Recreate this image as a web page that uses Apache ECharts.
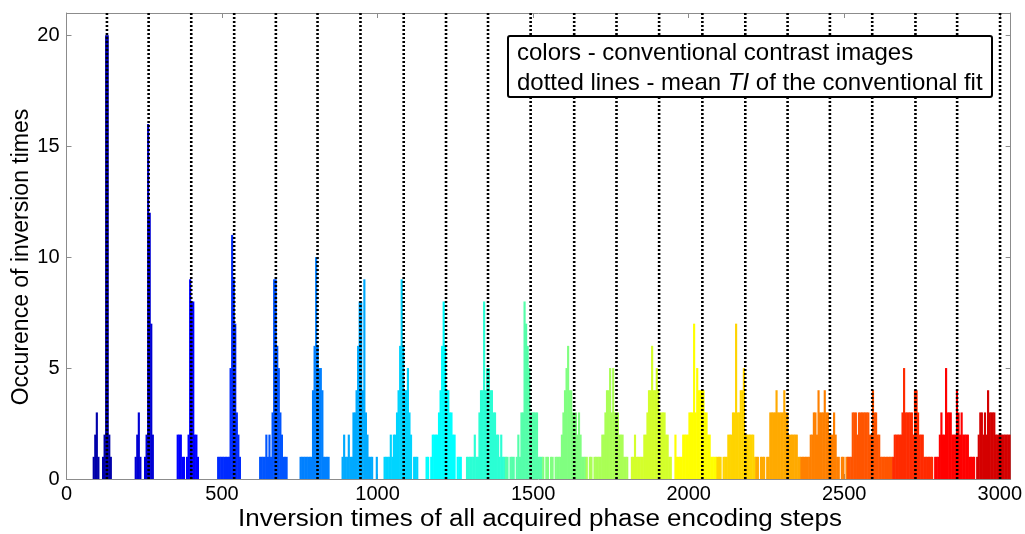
<!DOCTYPE html>
<html>
<head>
<meta charset="utf-8">
<script src="https://cdn.jsdelivr.net/npm/echarts@6/dist/echarts.min.js"></script>
<style>
  html, body { margin: 0; padding: 0; background: #fff; }
  #chart { width: 1025px; height: 534px; }
</style>
</head>
<body>
<div id="chart"></div>
<script>
// histogram bin width (ms)
var binWidth = 5;

// mean TI of the conventional fit (dotted lines)
var tiValues = [130, 264, 401, 539, 673, 807, 945, 1084, 1220, 1355, 1492,
  1632, 1768, 1905, 2044, 2182, 2318, 2454, 2590, 2729, 2863, 3001];

// left edge of the first bin of every contrast image
var groupStarts = [85, 220, 355, 485, 620, 750, 885, 1020, 1155, 1285, 1410,
  1530, 1670, 1815, 1955, 2090, 2215, 2360, 2510, 2655, 2790, 2925];

// counts per bin, one list per contrast image
var groupCounts = [
  [1, 2, 3, 1, 0, 0, 1, 2, 20, 20, 2, 1],
  [1, 2, 3, 1, 0, 0, 1, 2, 16, 12, 7, 2],
  [2, 2, 2, 1, 1, 0, 1, 2, 9, 8, 8, 2, 2, 1],
  [1, 1, 1, 1, 1, 1, 1, 1, 5, 11, 9, 7, 3, 2, 1],
  [1, 1, 1, 1, 2, 1, 2, 1, 3, 9, 9, 6, 5, 3, 2, 1, 1, 1],
  [1, 1, 1, 1, 1, 1, 1, 1, 4, 6, 10, 6, 5, 5, 4, 1, 1, 1, 1],
  [1, 2, 1, 1, 2, 1, 1, 3, 3, 4, 6, 8, 8, 4, 9, 3, 2, 1, 1, 1, 0, 0, 1],
  [1, 1, 1, 1, 2, 1, 2, 2, 3, 4, 6, 9, 6, 4, 4, 5, 3, 2, 0, 1, 1, 1],
  [1, 1, 0, 1, 2, 2, 2, 2, 3, 4, 6, 8, 6, 4, 4, 3, 3, 2, 2, 0, 1, 1, 1],
  [1, 1, 1, 1, 1, 2, 1, 1, 3, 4, 4, 8, 4, 5, 5, 4, 4, 3, 3, 2, 2, 1, 2, 1, 1],
  [1, 1, 0, 1, 1, 1, 0, 1, 2, 1, 3, 3, 8, 7, 6, 5, 3, 3, 3, 3, 3, 1, 1, 1],
  [1, 0, 1, 1, 0, 1, 1, 0, 1, 1, 1, 1, 2, 3, 4, 5, 6, 4, 4, 3, 3, 3, 2, 3, 2, 1, 1, 1],
  [1, 0, 1, 1, 0, 1, 1, 1, 1, 1, 2, 2, 3, 4, 4, 5, 3, 5, 3, 3, 3, 2, 2, 2, 1, 1, 1],
  [1, 1, 2, 1, 1, 1, 1, 1, 2, 2, 3, 4, 4, 6, 4, 4, 5, 4, 3, 3, 3, 3, 2, 2, 1, 1],
  [2, 1, 1, 1, 1, 2, 2, 2, 2, 3, 3, 3, 7, 3, 5, 4, 4, 4, 4, 3, 3, 2, 2, 1, 1, 1, 1],
  [1, 1, 1, 0, 1, 1, 1, 2, 2, 2, 3, 3, 7, 3, 3, 4, 4, 5, 2, 2, 2, 2, 2, 2, 1],
  [1, 1, 0, 1, 1, 1, 0, 1, 1, 3, 3, 3, 3, 4, 3, 3, 3, 3, 4, 3, 3, 2, 2, 2, 2, 2, 2, 1, 1],
  [1, 1, 1, 1, 1, 1, 2, 2, 3, 3, 2, 4, 3, 3, 3, 4, 3, 3, 2, 2, 2, 3, 2, 1, 1, 0, 1, 1, 0, 1],
  [1, 1, 1, 3, 3, 3, 2, 3, 3, 3, 3, 3, 3, 3, 2, 2, 4, 3, 3, 2, 2, 1, 1, 1, 1, 1, 1, 1, 1],
  [1, 2, 2, 2, 2, 2, 3, 5, 3, 3, 3, 3, 3, 2, 4, 4, 3, 2, 2, 2, 1, 1, 1, 1, 1, 1],
  [1, 1, 1, 2, 3, 2, 2, 5, 3, 3, 3, 2, 2, 2, 4, 3, 2, 3, 2, 2, 2, 2, 1, 1, 1, 1],
  [1, 2, 3, 3, 2, 3, 2, 4, 3, 3, 3, 3, 2, 2, 2, 2, 2, 2, 2, 2, 2, 2]
];

// jet(22) colormap
var jetColors = ['#0000AA', '#0000D4', '#0000FF', '#002BFF', '#0055FF', '#0080FF',
  '#00AAFF', '#00D4FF', '#00FFFF', '#2BFFD4', '#55FFAA', '#80FF80', '#AAFF55',
  '#D4FF2B', '#FFFF00', '#FFD400', '#FFAA00', '#FF8000', '#FF5500', '#FF2B00',
  '#FF0000', '#D40000'];

var xMax = 3035;
var yMax = 21;
var fontName = 'Liberation Sans, Arial, sans-serif';

var myChart = echarts.init(document.getElementById('chart'));

function renderBin(params, api) {
  var x0 = api.value(0);
  var c = api.value(1);
  var p1 = api.coord([x0, c]);
  var p0 = api.coord([x0 + binWidth, 0]);
  var cs = params.coordSys;
  // a little overlap so neighbouring bins don't leave seams
  var shape = echarts.graphic.clipRectByRect(
    { x: p1[0] - 0.3, y: p1[1], width: p0[0] - p1[0] + 0.6, height: p0[1] - p1[1] },
    { x: cs.x, y: cs.y, width: cs.width, height: cs.height }
  );
  return shape && {
    type: 'rect',
    shape: shape,
    style: { fill: api.visual('color') }
  };
}

var series = [];
groupCounts.forEach(function (counts, g) {
  var data = [];
  counts.forEach(function (c, k) {
    if (c > 0) data.push([groupStarts[g] + k * binWidth, c]);
  });
  series.push({
    type: 'custom',
    renderItem: renderBin,
    itemStyle: { color: jetColors[g] },
    encode: { x: 0, y: 1 },
    data: data,
    z: 2,
    silent: true
  });
});

// dotted lines - mean TI
series.push({
  type: 'custom',
  z: 5,
  silent: true,
  encode: { x: 0, y: 1 },
  data: tiValues.map(function (t) { return [t, 0]; }),
  renderItem: function (params, api) {
    var t = api.value(0);
    var a = api.coord([t, 0]);
    var b = api.coord([t, yMax]);
    return {
      type: 'line',
      shape: { x1: a[0], y1: a[1], x2: b[0], y2: b[1] },
      style: { stroke: '#000', lineWidth: 2.6, lineDash: [2, 2] }
    };
  }
});

var axisLineStyle = { show: true, onZero: false, lineStyle: { color: '#8c8c8c', width: 1 } };
var tickStyle = { show: true, inside: true, length: 5, lineStyle: { color: '#8c8c8c' } };
var plainNumber = function (v) { return String(v); };

var option = {
  animation: false,
  backgroundColor: '#fff',
  grid: { left: 66.5, right: 13, top: 13, bottom: 55, containLabel: false },
  xAxis: [{
    type: 'value',
    min: 0,
    max: xMax,
    interval: 500,
    position: 'bottom',
    axisLine: axisLineStyle,
    axisTick: tickStyle,
    splitLine: { show: false },
    axisLabel: { fontFamily: fontName, fontSize: 20, color: '#000', margin: 5, showMaxLabel: false, formatter: plainNumber }
  }, {
    type: 'value',
    min: 0,
    max: xMax,
    interval: 500,
    position: 'top',
    axisLine: axisLineStyle,
    axisTick: tickStyle,
    splitLine: { show: false },
    axisLabel: { show: false }
  }],
  yAxis: [{
    type: 'value',
    min: 0,
    max: yMax,
    interval: 5,
    position: 'left',
    axisLine: axisLineStyle,
    axisTick: tickStyle,
    splitLine: { show: false },
    axisLabel: { fontFamily: fontName, fontSize: 20, color: '#000', margin: 7, showMaxLabel: false, formatter: plainNumber }
  }, {
    type: 'value',
    min: 0,
    max: yMax,
    interval: 5,
    position: 'right',
    axisLine: axisLineStyle,
    axisTick: tickStyle,
    splitLine: { show: false },
    axisLabel: { show: false }
  }],
  graphic: [{
    // x axis title
    type: 'text',
    x: 540,
    y: 520,
    scaleX: 1.13,
    style: {
      text: 'Inversion times of all acquired phase encoding steps',
      font: '23px ' + fontName,
      fill: '#000',
      align: 'center',
      verticalAlign: 'middle'
    }
  }, {
    // y axis title
    type: 'text',
    x: 22,
    y: 257,
    rotation: Math.PI / 2,
    style: {
      text: 'Occurence of inversion times',
      font: '23px ' + fontName,
      fill: '#000',
      align: 'center',
      verticalAlign: 'middle'
    }
  }, {
    type: 'rect',
    z: 100,
    shape: { x: 508, y: 36, width: 484, height: 61, r: 2 },
    style: { fill: '#fff', stroke: '#000', lineWidth: 2 }
  }, {
    type: 'text',
    z: 101,
    x: 517,
    y: 38,
    style: {
      text: 'colors - conventional contrast images\ndotted lines - mean {i|TI} of the conventional fit',
      font: '24px ' + fontName,
      fill: '#000',
      lineHeight: 30,
      rich: { i: { fontStyle: 'italic', fontSize: 24, fontFamily: fontName, lineHeight: 30 } }
    }
  }],
  series: series
};

myChart.setOption(option);
</script>
</body>
</html>
